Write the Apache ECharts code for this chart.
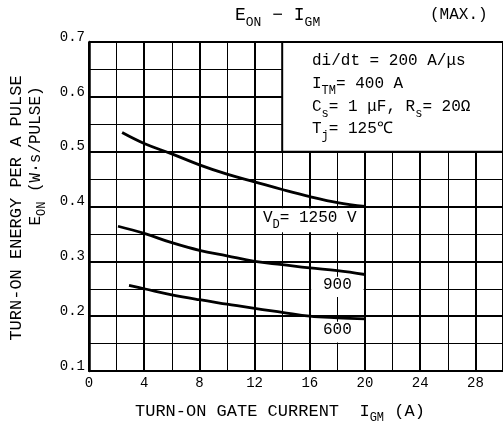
<!DOCTYPE html>
<html>
<head>
<meta charset="utf-8">
<script src="https://cdn.jsdelivr.net/npm/echarts@6/dist/echarts.min.js"></script>
<style>
  html, body { margin: 0; padding: 0; background: #fff; }
  #chart { width: 503px; height: 424px; }
</style>
</head>
<body>
<div id="chart"></div>
<script>
// gate current I_GM (A) and turn-on energy E_ON (W.s/pulse) per V_D
const igm1250 = [2.4, 4, 6, 8, 10, 12, 14, 16, 18, 20]
const eon1250 = [0.535, 0.515, 0.496, 0.476, 0.459, 0.445, 0.431, 0.418, 0.407, 0.400]
const igm900 = [2.1, 4, 6, 8, 10, 12, 14, 16, 18, 20]
const eon900 = [0.364, 0.351, 0.334, 0.320, 0.310, 0.300, 0.294, 0.288, 0.283, 0.276]
const igm600 = [2.9, 4, 6, 8, 10, 12, 14, 16, 18, 20]
const eon600 = [0.256, 0.250, 0.239, 0.230, 0.222, 0.214, 0.207, 0.200, 0.197, 0.195]
const xTicks = ['0', '4', '8', '12', '16', '20', '24', '28']
const yTicks = ['0.1', '0.2', '0.3', '0.4', '0.5', '0.6', '0.7']

const MONO = 'Liberation Mono'

const rich = {
  n: { fontSize: 16, fontFamily: MONO, color: '#000', verticalAlign: 'bottom', padding: [0, 0, 5, 0] },
  s: { fontSize: 12, fontFamily: MONO, color: '#000', verticalAlign: 'bottom' }
}

function pairs(xs, ys) {
  return xs.map((x, i) => [x, ys[i]])
}

const chart = echarts.init(document.getElementById('chart'))

const curve = (name, xs, ys) => ({
  name: name,
  type: 'line',
  data: pairs(xs, ys),
  smooth: 0.4,
  showSymbol: false,
  z: 5,
  lineStyle: { color: '#000', width: 2.8 }
})

chart.setOption({
  animation: false,
  backgroundColor: '#fff',
  grid: { left: 89, top: 42, right: -6, bottom: 53 },
  xAxis: {
    type: 'value',
    min: 0,
    max: 30,
    interval: 4,
    axisLine: { show: true, lineStyle: { color: '#000', width: 2 } },
    axisTick: { show: false },
    minorTick: { show: false, splitNumber: 2 },
    splitLine: { show: true, lineStyle: { color: '#000', width: 2 } },
    minorSplitLine: { show: true, lineStyle: { color: '#000', width: 1 } },
    axisLabel: {
      margin: 5,
      fontFamily: MONO,
      fontSize: 14,
      color: '#000',
      showMaxLabel: false,
      formatter: v => xTicks[v / 4] || ''
    }
  },
  yAxis: {
    type: 'value',
    min: 0.1,
    max: 0.7,
    interval: 0.1,
    axisLine: { show: true, lineStyle: { color: '#000', width: 2.5 } },
    axisTick: { show: false },
    minorTick: { show: false, splitNumber: 2 },
    splitLine: { show: true, lineStyle: { color: '#000', width: 2 } },
    minorSplitLine: { show: true, lineStyle: { color: '#000', width: 1 } },
    axisLabel: {
      margin: 4,
      fontFamily: MONO,
      fontSize: 14,
      color: '#000',
      verticalAlign: 'bottom',
      lineHeight: 10,
      formatter: v => yTicks[Math.round(v * 10) - 1]
    }
  },
  series: [
    {
      // white boxes over the grid for the notes
      type: 'line',
      data: [],
      z: 3,
      markArea: {
        silent: true,
        itemStyle: { color: '#fff', opacity: 1 },
        label: { show: true, position: 'inside', color: '#000', fontFamily: MONO, fontSize: 16, rich: rich },
        data: [
          [{ xAxis: 14, yAxis: 0.5, itemStyle: { borderColor: '#000', borderWidth: 2 }, label: { show: false } }, { xAxis: 31, yAxis: 0.71 }],
          [{ xAxis: 12.1, yAxis: 0.353, name: '{n|V}{s|D}{n|= 1250 V}' }, { xAxis: 19.9, yAxis: 0.397 }],
          [{ xAxis: 16.1, yAxis: 0.235, name: '{n|900}' }, { xAxis: 19.9, yAxis: 0.272 }],
          [{ xAxis: 16.1, yAxis: 0.152, name: '{n|600}' }, { xAxis: 19.9, yAxis: 0.19 }]
        ]
      }
    },
    curve('1250', igm1250, eon1250),
    curve('900', igm900, eon900),
    curve('600', igm600, eon600)
  ],
  graphic: [
    {
      type: 'text', left: 235, top: 6, z: 10,
      style: { text: '{t|E}{u|ON}{t| − I}{u|GM}', rich: {
        t: { fontSize: 18, fontFamily: MONO, color: '#000', verticalAlign: 'bottom', padding: [0, 0, 5, 0] },
        u: { fontSize: 13, fontFamily: MONO, color: '#000', verticalAlign: 'bottom' }
      } }
    },
    { type: 'text', left: 430, top: 7, z: 10, style: { text: '(MAX.)', fontSize: 16, fontFamily: MONO, fill: '#000' } },
    { type: 'text', left: 312, top: 53, z: 10, style: { text: '{n|di/dt = 200 A/μs}', rich: rich } },
    { type: 'text', left: 312, top: 76, z: 10, style: { text: '{n|I}{s|TM}{n|= 400 A}', rich: rich } },
    { type: 'text', left: 312, top: 99, z: 10, style: { text: '{n|C}{s|s}{n|= 1 μF, R}{s|s}{n|= 20Ω}', rich: rich } },
    { type: 'text', left: 312, top: 121, z: 10, style: { text: '{n|T}{s|j}{n|= 125℃}', rich: rich } },
    {
      type: 'text', x: 16, y: 208, rotation: Math.PI / 2, z: 10,
      style: { text: 'TURN-ON ENERGY PER A PULSE', fontSize: 17, fontFamily: MONO, fill: '#000', align: 'center', verticalAlign: 'middle' }
    },
    {
      type: 'text', x: 38, y: 156, rotation: Math.PI / 2, z: 10,
      style: { text: '{t|E}{u|ON}{t| (W·s/PULSE)}', align: 'center', verticalAlign: 'middle', rich: {
        t: { fontSize: 16, fontFamily: MONO, color: '#000', verticalAlign: 'bottom', padding: [0, 0, 4, 0] },
        u: { fontSize: 12, fontFamily: MONO, color: '#000', verticalAlign: 'bottom' }
      } }
    },
    {
      type: 'text', left: 135, top: 403, z: 10,
      style: { text: '{t|TURN-ON GATE CURRENT  I}{u|GM}{t| (A)}', rich: {
        t: { fontSize: 17, fontFamily: MONO, color: '#000', verticalAlign: 'bottom', padding: [0, 0, 4, 0] },
        u: { fontSize: 12, fontFamily: MONO, color: '#000', verticalAlign: 'bottom' }
      } }
    }
  ]
})
</script>
</body>
</html>
